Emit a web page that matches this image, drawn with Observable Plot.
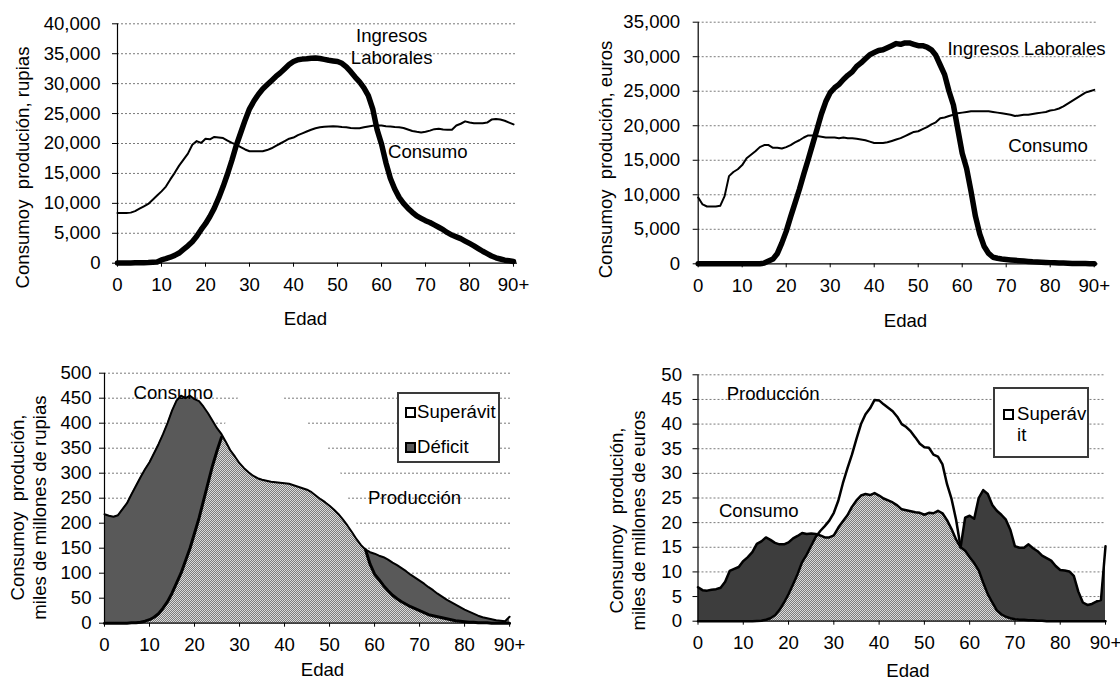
<!DOCTYPE html>
<html><head><meta charset="utf-8">
<script src="https://cdn.jsdelivr.net/npm/d3@7"></script>
<script src="https://cdn.jsdelivr.net/npm/@observablehq/plot@0.6"></script>
<style>
html,body{margin:0;padding:0;background:#fff;}
#wrap{position:relative;width:1120px;height:682px;overflow:hidden;font-family:"Liberation Sans",Arial,sans-serif;color:#000;}
#wrap svg{position:absolute;overflow:visible;}
#wrap svg text{white-space:pre;}
.legend{position:absolute;box-sizing:border-box;border:2px solid #3a3a3a;background:#fff;font-size:18.6px;}
.item{position:absolute;white-space:nowrap;line-height:20px;}
.sw{position:absolute;box-sizing:border-box;width:11px;height:11px;border:2px solid #000;}
</style></head><body>
<svg width="0" height="0" style="position:absolute">
  <defs>
    <pattern id="chk" width="2" height="2" patternUnits="userSpaceOnUse">
      <rect width="2" height="2" fill="#dadada"/>
      <rect width="1" height="1" fill="#7c7c7c"/>
      <rect x="1" y="1" width="1" height="1" fill="#7c7c7c"/>
    </pattern>
  </defs>
</svg>
<div id="wrap"></div>
<script>
// ---------- categories ----------
const ages = [0,1,2,3,4,5,6,7,8,9,10,11,12,13,14,15,16,17,18,19,20,21,22,23,24,25,26,27,28,29,30,
  31,32,33,34,35,36,37,38,39,40,41,42,43,44,45,46,47,48,49,50,51,52,53,54,55,56,57,58,59,60,
  61,62,63,64,65,66,67,68,69,70,71,72,73,74,75,76,77,78,79,80,81,82,83,84,85,86,87,88,89,90];
const xTicks = [0,10,20,30,40,50,60,70,80,90];
const xTickLabels = ["0","10","20","30","40","50","60","70","80","90+"];

// ---------- panel 1: rupias per capita ----------
const consumoRupias = [8400,8400,8400,8450,8700,9100,9500,9900,10600,11300,12000,12800,14000,15100,16300,17300,18300,19800,20400,20100,20800,20700,21100,21000,20900,20500,20100,19800,19400,19000,18700,
  18700,18700,18700,18900,19200,19600,20000,20400,20800,21000,21400,21700,22000,22300,22550,22700,22800,22850,22900,22850,
  22750,22700,22600,22550,22550,22700,22850,22950,23000,23000,22900,22850,22750,22700,22600,22350,22100,21950,21850,21950,
  22150,22400,22450,22350,22300,22300,23000,23300,23700,23500,23400,23400,23400,23500,24000,24100,24000,23800,23500,23200];
const ingresosRupias = [50,50,50,50,60,70,80,100,150,200,550,750,1000,1300,1700,2300,2900,3600,4500,5600,6600,7800,9200,10900,12800,14900,17200,19700,21800,23900,25800,
  27100,28200,29100,29800,30500,31200,31800,32500,33200,33700,34000,34100,34150,34250,34300,34200,34050,33900,33800,33700,
  33400,32800,32000,31100,30300,29300,28000,25800,22300,19900,16800,14200,12400,11000,10000,9200,8500,7900,7500,7100,
  6800,6400,6000,5600,5100,4700,4400,4100,3700,3300,2900,2450,2000,1600,1200,900,700,500,400,300];
const ticks1 = [0,5000,10000,15000,20000,25000,30000,35000,40000];

// ---------- panel 2: euros per capita ----------
const consumoEuros = [9600,8600,8300,8300,8300,8400,9800,12700,13300,13700,14300,15300,15800,16300,16900,17200,17200,16800,16800,16700,16900,17200,17600,17900,18300,18600,18600,18500,18400,18300,18300,
  18300,18200,18300,18200,18200,18100,18000,17900,17700,17500,17500,17500,17600,17800,18000,18200,18500,18800,19100,19200,
  19500,19800,20200,20500,21100,21200,21400,21600,21800,21900,22000,22100,22100,22100,22100,22100,22000,21900,21800,21700,
  21600,21400,21500,21600,21600,21700,21800,21900,22000,22200,22300,22500,22800,23200,23600,24000,24400,24800,25000,25200];
const ingresosEuros = [0,0,0,0,0,0,0,0,0,0,0,0,0,0,0,100,400,700,1500,3000,4700,6800,8800,10800,13000,15100,17300,19500,21700,23500,24800,
  25500,26000,26700,27300,27800,28600,29100,29700,30300,30600,30900,31000,31300,31600,31900,31800,32000,32000,31800,31600,
  31600,31400,31000,30200,28800,27400,25000,23000,19500,16000,13800,10500,6900,4300,2500,1500,950,800,700,630,
  560,500,450,400,350,300,270,230,200,170,140,120,100,80,60,50,40,30,20,10];
const ticks2 = [0,5000,10000,15000,20000,25000,30000,35000];

// ---------- panel 3: aggregate, miles de millones de rupias ----------
const consumoAggRupias = [218,215,213,216,228,240,258,275,292,308,322,340,358,378,400,425,445,455,450,455,448,444,433,420,405,390,378,362,345,333,320,
  310,302,295,290,287,285,283,282,281,280,279,276,273,270,267,262,255,248,242,235,
  227,218,207,195,182,168,156,147,142,139,135,132,127,121,116,110,104,97,91,85,
  79,72,66,59,53,47,42,37,32,27,23,19,15,12,10,8,6,5,4,13];
const produccionAggRupias = [0,0,0,0,0,0,1,1,2,4,7,12,19,30,43,60,80,100,125,150,180,210,245,280,315,345,372,400,425,440,452,
  460,466,470,472,472,470,466,460,454,448,440,430,420,410,400,388,376,363,358,345,
  330,308,290,255,228,200,165,147,118,98,87,75,65,56,49,43,38,33,29,25,
  21,17,15,13,11,9,7,5,4,3,2,2,1,1,1,0,0,0,0,0];
const ticks3 = [0,50,100,150,200,250,300,350,400,450,500];

// ---------- panel 4: aggregate, miles de millones de euros ----------
const consumoAggEuros = [6.9,6.3,6.2,6.4,6.5,6.8,8.0,10.2,10.6,11.0,12.2,13.0,14.0,15.7,16.2,17.0,16.5,15.9,15.6,15.6,16.0,16.8,17.3,17.9,17.7,17.8,17.7,17.4,17.0,17.0,17.4,
  19.0,20.3,21.5,23.2,24.5,25.5,25.8,25.6,26.0,25.5,24.9,24.5,24.1,23.5,22.7,22.5,22.3,22.1,22.0,21.6,
  22.0,21.9,22.4,21.9,20.5,18.7,16.6,15.0,21.0,21.4,20.8,25.0,26.6,25.8,23.6,22.4,21.6,20.6,18.5,15.2,
  14.9,14.9,15.6,14.8,14.2,13.3,12.8,12.3,11.2,10.4,10.3,10.1,9.2,6.0,3.8,3.3,3.5,4.0,4.3,15.2];
const produccionAggEuros = [0,0,0,0,0,0,0,0,0,0,0,0,0,0.05,0.1,0.3,0.6,1.2,2.3,3.8,5.5,7.5,9.6,12.0,13.5,15.3,17.1,18.3,19.3,20.4,22.0,
  24.5,28.0,31.0,33.8,37.0,40.0,42.0,43.2,44.9,44.8,44.0,43.3,42.6,41.5,40.0,39.4,38.5,37.3,36.0,35.3,
  35.2,33.8,33.4,31.8,27.8,24.8,20.6,15.0,14.3,13.0,11.8,10.3,7.8,5.5,3.8,2.2,1.4,0.9,0.6,0.4,
  0.3,0.3,0.2,0.2,0.1,0.1,0,0,0,0,0,0,0,0,0,0,0,0,0,0];
const ticks4 = [0,5,10,15,20,25,30,35,40,45,50];

// ---------- helpers ----------
const wrap = document.getElementById("wrap");
const FS = 18.6;
const FONT = "font-family:'Liberation Sans',Arial,sans-serif;font-size:18.6px;background:none;color:#000;";
const xFmt = d => xTickLabels[xTicks.indexOf(d)];

function gridMarks(yTicks) {
  return [
    Plot.gridY(yTicks.filter(d => d > 0), {stroke: "#7a7a7a", strokeOpacity: 1, strokeDasharray: "2,2", strokeWidth: 1})
  ];
}
function axisMarks(yTicks, yFmt, yPad) {
  return [
    Plot.ruleX([0], {stroke: "#000", strokeWidth: 1.2}),
    Plot.ruleY([0], {stroke: "#000", strokeWidth: 1.2}),
    Plot.axisY(yTicks, {tickSize: 5, tickPadding: yPad, tickFormat: yFmt, label: null, stroke: "#000", fill: "#000", fontSize: FS}),
    Plot.axisX(xTicks, {tickSize: 4, tickPadding: 10.5, tickFormat: xFmt, label: null, stroke: "#000", fill: "#000", fontSize: FS})
  ];
}
function place(svg, left, top) {
  svg.style.left = left + "px";
  svg.style.top = top + "px";
  wrap.appendChild(svg);
}
function label(text, x, y, opts = {}) {
  return Plot.text([text], {x: () => x, y: () => y, text: d => d, fontSize: FS, fill: "#000", textAnchor: "middle", lineAnchor: "middle", ...opts});
}
function framed(text, dx, dy, opts = {}) {
  return Plot.text([text], {frameAnchor: "top-left", dx, dy, text: d => d, fontSize: FS, fill: "#000", textAnchor: "middle", lineAnchor: "middle", ...opts});
}

// ---------- panel 1 ----------
{
  const rows = ages.map((a, i) => ({age: a, c: consumoRupias[i], p: ingresosRupias[i]}));
  const ml = 117, mt = 23.3, W = 560, H = 341;
  const svg = Plot.plot({
    width: W, height: H, marginLeft: ml, marginRight: 43, marginTop: mt, marginBottom: H - 262.7,
    x: {domain: [0, 90.9]}, y: {domain: [0, 40000]},
    style: FONT,
    marks: [
      ...gridMarks(ticks1),
      Plot.line(rows, {x: "age", y: "c", stroke: "#000", strokeWidth: 2}),
      Plot.line(rows, {x: "age", y: "p", stroke: "#000", strokeWidth: 5.5, strokeLinecap: "round"}),
      ...axisMarks(ticks1, d3.format(","), 12),
      label("Ingresos", 62.3, 37880),
      label("Laborales", 62.3, 34200),
      label("Consumo", 70.5, 18500),
      framed("Consumoy  produción, rupias", 23 - ml, 167 - mt, {rotate: -90}),
      framed("Edad", 305 - ml, 319 - mt)
    ]
  });
  place(svg, 0, 0);
}

// ---------- panel 2 ----------
{
  const rows = ages.map((a, i) => ({age: a, c: consumoEuros[i], p: ingresosEuros[i]}));
  const ml = 137.7, mt = 21.7, W = 560, H = 341;
  const svg = Plot.plot({
    width: W, height: H, marginLeft: ml, marginRight: 22.5, marginTop: mt, marginBottom: H - 263.3,
    x: {domain: [0, 90.86]}, y: {domain: [0, 35000]},
    style: FONT,
    marks: [
      ...gridMarks(ticks2),
      Plot.line(rows, {x: "age", y: "c", stroke: "#000", strokeWidth: 2}),
      Plot.line(rows, {x: "age", y: "p", stroke: "#000", strokeWidth: 5.5, strokeLinecap: "round"}),
      ...axisMarks(ticks2, d3.format(","), 13),
      label("Ingresos Laborales", 74.6, 31045),
      label("Consumo", 79.5, 16990),
      framed("Consumoy  produción, euros", 606 - 560 - ml, 159 - mt, {rotate: -90}),
      framed("Edad", 905 - 560 - ml, 321 - mt)
    ]
  });
  place(svg, 560, 0);
}

// ---------- panel 3 ----------
{
  const rows = ages.map((a, i) => ({age: a, c: consumoAggRupias[i], p: produccionAggRupias[i]}));
  const ml = 104, mt = 372.7 - 341, W = 560, H = 341;
  const svg = Plot.plot({
    width: W, height: H, marginLeft: ml, marginRight: 50, marginTop: mt, marginBottom: 682 - 622.7,
    x: {domain: [0, 90.2]}, y: {domain: [0, 500]},
    style: FONT,
    marks: [
      ...gridMarks(ticks3),
      Plot.areaY(rows, {x: "age", y1: 0, y2: "c", fill: "#595959"}),
      Plot.areaY(rows, {x: "age", y1: "c", y2: d => Math.max(d.c, d.p), fill: "#fff"}),
      Plot.areaY(rows, {x: "age", y1: 0, y2: d => Math.min(d.c, d.p), fill: "url(#chk)"}),
      Plot.line(rows, {x: "age", y: "c", stroke: "#000", strokeWidth: 2}),
      Plot.line(rows, {x: "age", y: d => (d.p <= d.c + 0.5 ? d.p : NaN), stroke: "#000", strokeWidth: 3}),
      ...axisMarks(ticks3, d => String(d), 8),
      label("Consumo", 15.3, 461),
      label("Producción", 68.9, 251),
      framed("Consumoy  produción,\nmiles de millones de rupias", 27 - ml, 507 - 341 - mt, {rotate: -90, lineHeight: 22 / FS}),
      framed("Edad", 322 - ml, 670 - 341 - mt)
    ]
  });
  place(svg, 0, 341);
}

// ---------- panel 4 ----------
{
  const rows = ages.map((a, i) => ({age: a, c: consumoAggEuros[i], p: produccionAggEuros[i]}));
  const ml = 137.5, mt = 374.3 - 341, W = 560, H = 341;
  const svg = Plot.plot({
    width: W, height: H, marginLeft: ml, marginRight: 15, marginTop: mt, marginBottom: 682 - 620.7,
    x: {domain: [0, 90]}, y: {domain: [0, 50]},
    style: FONT,
    marks: [
      ...gridMarks(ticks4),
      Plot.areaY(rows, {x: "age", y1: 0, y2: "c", fill: "#3d3d3d"}),
      Plot.areaY(rows, {x: "age", y1: "c", y2: d => Math.max(d.c, d.p), fill: "#fff"}),
      Plot.areaY(rows, {x: "age", y1: 0, y2: d => Math.min(d.c, d.p), fill: "url(#chk)"}),
      Plot.line(rows, {x: "age", y: "c", stroke: "#000", strokeWidth: 2.5}),
      Plot.line(rows, {x: "age", y: "p", stroke: "#000", strokeWidth: 2.5}),
      ...axisMarks(ticks4, d => String(d), 11),
      label("Producción", 16.6, 46),
      label("Consumo", 13.4, 22.3),
      framed("Consumoy  produción,\nmiles de millones de euros", 626 - 560 - ml, 520 - 341 - mt, {rotate: -90, lineHeight: 22 / FS}),
      framed("Edad", 907.5 - 560 - ml, 671 - 341 - mt)
    ]
  });
  place(svg, 560, 341);
}

// ---------- legends (inside plot areas) ----------
function legend(left, top, w, h, items) {
  const box = document.createElement("div");
  box.className = "legend";
  Object.assign(box.style, {left: left + "px", top: top + "px", width: w + "px", height: h + "px"});
  for (const it of items) {
    if (it.swatch) {
      const s = document.createElement("div");
      s.className = "sw";
      Object.assign(s.style, {left: it.sx + "px", top: it.sy + "px", background: it.swatch});
      box.appendChild(s);
    }
    const t = document.createElement("div");
    t.className = "item";
    t.textContent = it.text;
    Object.assign(t.style, {left: it.tx + "px", top: it.ty + "px"});
    box.appendChild(t);
  }
  wrap.appendChild(box);
}
legend(397, 392, 103, 71, [
  {text: "Superávit", swatch: "#fff", sx: 6, sy: 13, tx: 18, ty: 8},
  {text: "Déficit", swatch: "#595959", sx: 6, sy: 48, tx: 18, ty: 43}
]);
legend(993, 387, 96, 71, [
  {text: "Superáv", swatch: "#fff", sx: 8, sy: 20, tx: 22, ty: 15},
  {text: "it", tx: 22, ty: 36}
]);
</script>
</body></html>
